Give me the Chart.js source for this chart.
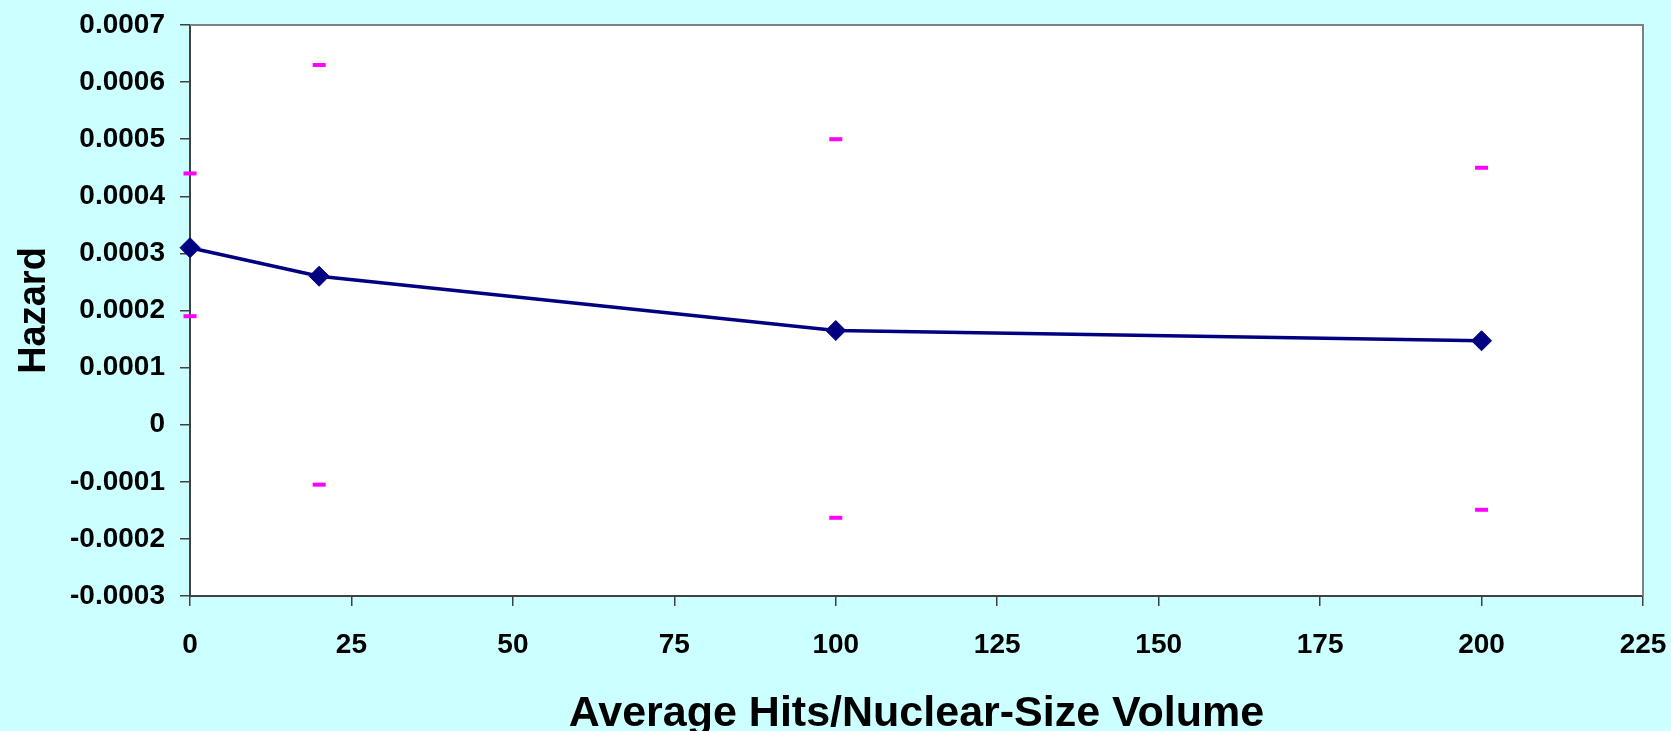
<!DOCTYPE html>
<html>
<head>
<meta charset="utf-8">
<script src="https://cdn.jsdelivr.net/npm/chart.js@4/dist/chart.umd.min.js"></script>
<style>
  html, body { margin: 0; padding: 0; background: #CCFFFF; overflow: hidden; }
  #wrap { width: 1671px; height: 731px; }
</style>
</head>
<body>
<div id="wrap"><canvas id="hazardChart" width="1671" height="731"></canvas></div>
<script>
// Hazard vs hits - data
const hits = [0, 20, 100, 200];
const hazard = [0.00031, 0.00026, 0.000165, 0.000147];
const hazardHigh = [0.00044, 0.00063, 0.0005, 0.00045];
const hazardLow = [0.00019, -0.000105, -0.000163, -0.000149];

const xTicks = [0, 25, 50, 75, 100, 125, 150, 175, 200, 225];
const yTicks = [-0.0003, -0.0002, -0.0001, 0, 0.0001, 0.0002, 0.0003, 0.0004, 0.0005, 0.0006, 0.0007];
const yTickLabels = ['-0.0003', '-0.0002', '-0.0001', '0', '0.0001', '0.0002', '0.0003', '0.0004', '0.0005', '0.0006', '0.0007'];

const fontFamily = "'Liberation Sans', Arial, sans-serif";

const hazardPoints = hits.map((x, i) => ({x: x, y: hazard[i]}));
const errorPoints = [];
hits.forEach((x, i) => {
    errorPoints.push({x: x, y: hazardHigh[i]});
    errorPoints.push({x: x, y: hazardLow[i]});
});

// white plot area with grey top/right frame
const plotFrame = {
    id: 'plotFrame',
    beforeDraw(chart) {
        const {ctx, chartArea: a} = chart;
        ctx.save();
        ctx.fillStyle = '#FFFFFF';
        ctx.fillRect(a.left, a.top, a.right - a.left, a.bottom - a.top);
        ctx.restore();
    },
    beforeDatasetsDraw(chart) {
        const {ctx, chartArea: a} = chart;
        ctx.save();
        ctx.strokeStyle = '#808080';
        ctx.lineWidth = 2;
        ctx.beginPath();
        ctx.moveTo(a.left, a.top);
        ctx.lineTo(a.right, a.top);
        ctx.lineTo(a.right, a.bottom);
        ctx.stroke();
        ctx.restore();
    }
};

const data = {
    datasets: [
        {
            label: 'Hazard',
            type: 'line',
            data: hazardPoints,
            borderColor: '#000080',
            backgroundColor: '#000080',
            borderWidth: 3.5,
            pointStyle: 'rectRot',
            pointRadius: 10,
            pointHoverRadius: 10,
            pointBorderWidth: 1,
            tension: 0,
            clip: false,
            order: 1
        },
        {
            label: 'Bounds',
            type: 'scatter',
            data: errorPoints,
            borderColor: '#FF00FF',
            backgroundColor: '#FF00FF',
            pointStyle: 'line',
            pointRadius: 6.5,
            pointBorderWidth: 4,
            showLine: false,
            clip: false,
            order: 0
        }
    ]
};

const config = {
    type: 'line',
    data: data,
    options: {
        responsive: false,
        animation: false,
        layout: {
            padding: {top: 25, right: 28, left: 0, bottom: 0}
        },
        plugins: {
            legend: {display: false},
            tooltip: {enabled: false},
            title: {display: false}
        },
        scales: {
            x: {
                type: 'linear',
                min: 0,
                max: 225,
                afterFit: (scale) => {
                    scale.height = 135;
                    scale.paddingLeft = 0;
                    scale.paddingRight = 0;
                },
                afterBuildTicks: (scale) => { scale.ticks = xTicks.map(v => ({value: v})); },
                border: {display: true, color: '#404040', width: 2},
                grid: {display: true, drawOnChartArea: false, drawTicks: true, tickLength: 10, color: '#404040', lineWidth: 1.5},
                ticks: {
                    padding: 22,
                    maxRotation: 0,
                    color: '#000000',
                    font: {family: fontFamily, size: 28, weight: 'bold'}
                },
                title: {
                    display: true,
                    text: 'Average Hits/Nuclear-Size Volume',
                    color: '#000000',
                    padding: {top: 0, bottom: 0},
                    font: {family: fontFamily, size: 43, weight: 'bold', lineHeight: 0.8}
                }
            },
            y: {
                type: 'linear',
                min: -0.0003,
                max: 0.0007,
                afterFit: (scale) => {
                    scale.width = 190;
                    scale.paddingTop = 0;
                    scale.paddingBottom = 0;
                },
                afterBuildTicks: (scale) => { scale.ticks = yTicks.map(v => ({value: v})); },
                border: {display: true, color: '#404040', width: 2},
                grid: {display: true, drawOnChartArea: false, drawTicks: true, tickLength: 10, color: '#404040', lineWidth: 1.5},
                ticks: {
                    padding: 15,
                    color: '#000000',
                    font: {family: fontFamily, size: 28, weight: 'bold'},
                    callback: (value, index) => yTickLabels[index]
                },
                title: {
                    display: true,
                    text: 'Hazard',
                    color: '#000000',
                    padding: {top: 12, bottom: 0},
                    font: {family: fontFamily, size: 38, weight: 'bold'}
                }
            }
        }
    },
    plugins: [plotFrame]
};

new Chart("hazardChart", config);
</script>
</body>
</html>
